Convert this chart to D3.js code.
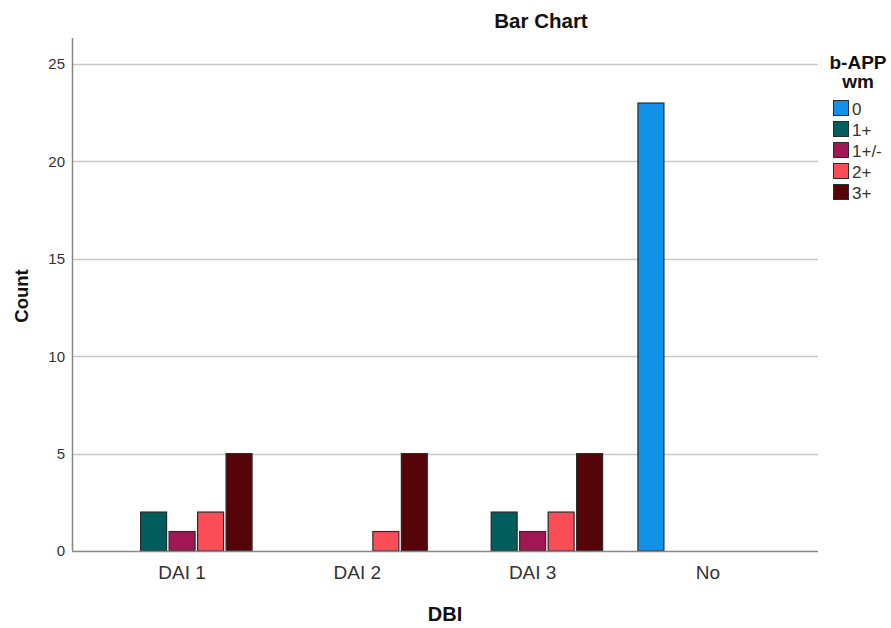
<!DOCTYPE html>
<html>
<head>
<meta charset="utf-8">
<script src="https://cdn.jsdelivr.net/npm/d3@7/dist/d3.min.js"></script>
<style>
  body { margin: 0; background: #fff; }
  text { font-family: "Liberation Sans", Arial, sans-serif; }
</style>
</head>
<body>
<svg id="chart" width="891" height="628"></svg>
<script>
// Counts of b-APP wm grade within each DBI group
const categories = ["DAI 1", "DAI 2", "DAI 3", "No"];
const seriesNames = ["0", "1+", "1+/-", "2+", "3+"];
const series0 = [0, 0, 0, 23];
const series1p = [2, 0, 2, 0];
const series1pm = [1, 0, 1, 0];
const series2p = [2, 1, 2, 0];
const series3p = [5, 5, 5, 0];
const yTicks = [0, 5, 10, 15, 20, 25];
const colors = ["#1192e8", "#005d5d", "#9f1853", "#fa4d56", "#570408"];

const seriesValues = [series0, series1p, series1pm, series2p, series3p];

const svg = d3.select("#chart");
const plotLeft = 72, plotRight = 818, plotTop = 38, plotBottom = 551;
const FONT = "'Liberation Sans', Arial, sans-serif";

const x = d3.scaleBand().domain(categories).range([plotLeft, plotRight]).paddingInner(0).paddingOuter(0.128);
const xi = d3.scaleBand().domain(seriesNames).range([0, x.bandwidth()]).paddingInner(0.088).paddingOuter(0.62);
const y = d3.scaleLinear().domain([0, 26.34]).range([plotBottom, plotTop]);

// gridlines
svg.append("g").selectAll("line").data(yTicks.filter(d => d > 0)).join("line")
  .attr("x1", plotLeft).attr("x2", plotRight)
  .attr("y1", d => Math.round(y(d)) + 0.5).attr("y2", d => Math.round(y(d)) + 0.5)
  .attr("stroke", "#c8c8c8").attr("stroke-width", 1.5);

// y axis
const yAxis = svg.append("g").attr("transform", `translate(${plotLeft},0)`)
  .call(d3.axisLeft(y).tickValues(yTicks).tickSize(0).tickPadding(7));
yAxis.select(".domain").remove();
yAxis.selectAll("text").attr("font-size", 15).attr("fill", "#333").style("font-family", FONT);
svg.append("line").attr("x1", plotLeft + 0.5).attr("x2", plotLeft + 0.5).attr("y1", plotTop).attr("y2", plotBottom)
  .attr("stroke", "#888").attr("stroke-width", 1.5);

// bars
const groups = svg.append("g").selectAll("g").data(categories).join("g")
  .attr("transform", d => `translate(${x(d)},0)`);
groups.selectAll("rect")
  .data((c, ci) => seriesNames.map((s, si) => ({ s, si, v: seriesValues[si][ci] })).filter(d => d.v > 0))
  .join("rect")
  .attr("x", d => xi(d.s))
  .attr("width", xi.bandwidth())
  .attr("y", d => y(d.v))
  .attr("height", d => y(0) - y(d.v))
  .attr("fill", d => colors[d.si])
  .attr("stroke", "#2b2b2b").attr("stroke-width", 1.2);

// x axis
svg.append("line").attr("x1", plotLeft).attr("x2", plotRight).attr("y1", plotBottom + 0.5).attr("y2", plotBottom + 0.5)
  .attr("stroke", "#888").attr("stroke-width", 1.5);
const xAxis = svg.append("g").attr("transform", `translate(0,${plotBottom})`)
  .call(d3.axisBottom(x).tickSize(0).tickPadding(15));
xAxis.select(".domain").remove();
xAxis.selectAll("text").attr("font-size", 19).attr("fill", "#333").style("font-family", FONT);

// titles
svg.append("text").attr("x", 541).attr("y", 28).attr("text-anchor", "middle")
  .attr("font-size", 20.5).attr("font-weight", "bold").attr("fill", "#111").text("Bar Chart");
svg.append("text").attr("transform", "translate(28,296) rotate(-90)").attr("text-anchor", "middle")
  .attr("font-size", 18.5).attr("font-weight", "bold").attr("fill", "#111").text("Count");
svg.append("text").attr("x", 445).attr("y", 621).attr("text-anchor", "middle")
  .attr("font-size", 20).attr("font-weight", "bold").attr("fill", "#111").text("DBI");

// legend
const lg = svg.append("g");
lg.append("text").attr("x", 858).attr("y", 69).attr("text-anchor", "middle")
  .attr("font-size", 19).attr("font-weight", "bold").attr("fill", "#111").text("b-APP");
lg.append("text").attr("x", 858).attr("y", 88).attr("text-anchor", "middle")
  .attr("font-size", 19).attr("font-weight", "bold").attr("fill", "#111").text("wm");
const items = lg.selectAll("g.item").data(seriesNames).join("g").attr("class", "item")
  .attr("transform", (d, i) => `translate(833.5,${100.5 + i * 21})`);
items.append("rect").attr("width", 15).attr("height", 15)
  .attr("fill", (d, i) => colors[i]).attr("stroke", "#2b2b2b").attr("stroke-width", 1);
items.append("text").attr("x", 18.5).attr("y", 14).attr("font-size", 17).attr("fill", "#333").text(d => d);
</script>
</body>
</html>
